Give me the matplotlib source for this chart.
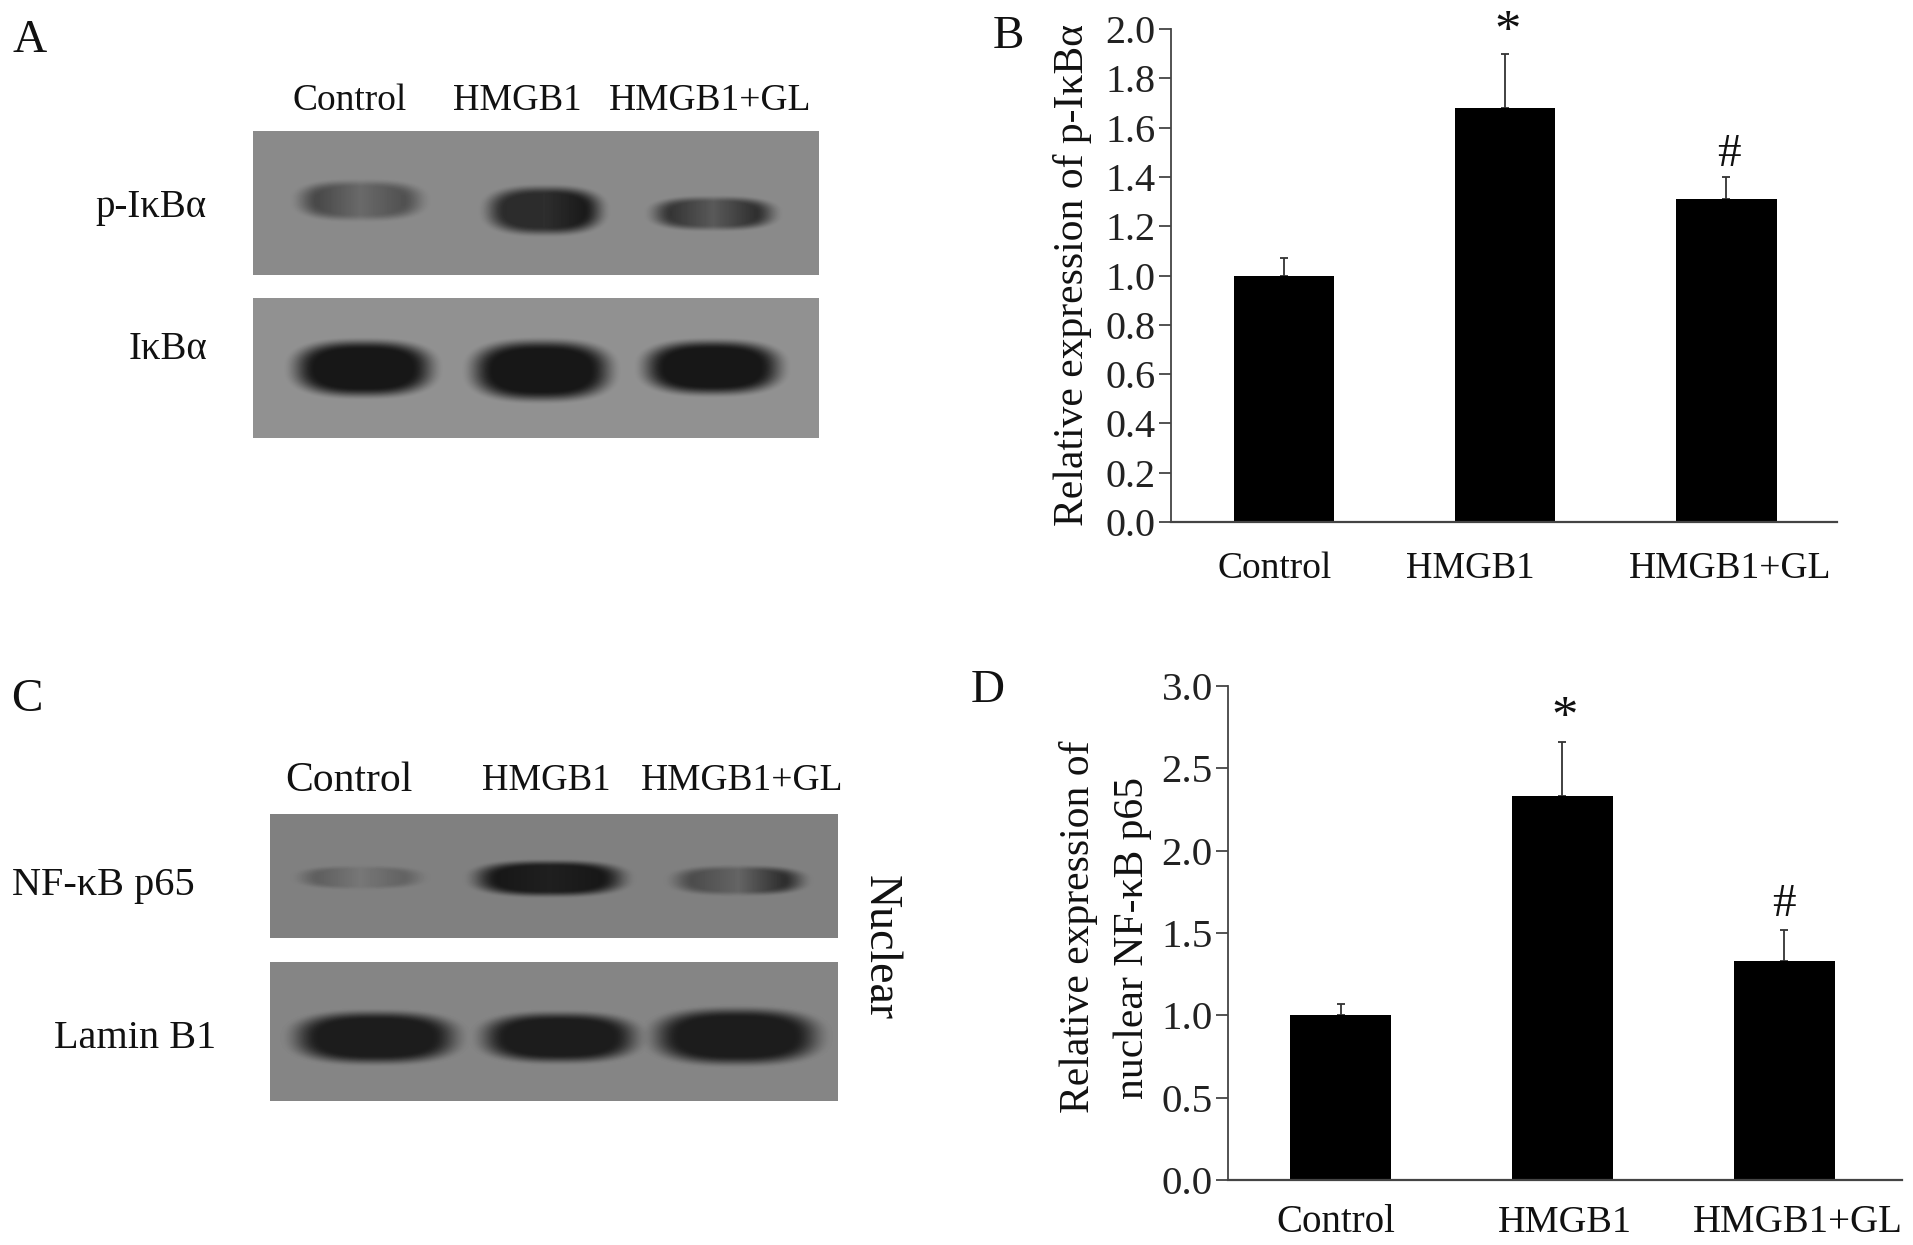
import numpy as np
import matplotlib
matplotlib.use("Agg")
import matplotlib.pyplot as plt

W, H = 1913, 1245

plt.rcParams["font.family"] = ["Liberation Serif", "DejaVu Serif"]

GROUPS = ["Control", "HMGB1", "HMGB1+GL"]

# panel B
P_IKBA_MEAN = [1.0, 1.68, 1.31]
P_IKBA_ERR = [0.07, 0.22, 0.09]
B_TICKS = [0.0, 0.2, 0.4, 0.6, 0.8, 1.0, 1.2, 1.4, 1.6, 1.8, 2.0]

# panel D
P65_MEAN = [1.0, 2.33, 1.33]
P65_ERR = [0.07, 0.33, 0.19]
D_TICKS = [0.0, 0.5, 1.0, 1.5, 2.0, 2.5, 3.0]

# band darkness left / middle / right, one row per lane
BAND_P_IKBA = [[0.58, 0.28, 0.50], [0.82, 0.80, 0.98], [0.75, 0.42, 0.80]]
BAND_IKBA = [[1.0, 1.0, 1.0], [1.0, 1.0, 1.0], [1.0, 1.0, 1.0]]
BAND_P65 = [[0.32, 0.08, 0.28], [1.0, 0.92, 1.0], [0.50, 0.26, 0.80]]
BAND_LAMIN = [[0.95, 0.95, 0.95], [0.95, 0.95, 0.95], [0.95, 0.95, 0.95]]


def px_axes(fig, x0, y0, x1, y1):
    # axes from pixel box, y measured from the top of the picture
    return fig.add_axes([x0 / W, 1 - y1 / H, (x1 - x0) / W, (y1 - y0) / H])


def put_text(fig, x, y, s, size=27, ha="center", rotation=0, **kw):
    fig.text(x / W, 1 - y / H, s, fontsize=size, ha=ha, va="center",
             rotation=rotation, color="#111111", **kw)


def draw_blot(fig, box, bg, boxes, darkness):
    x0, y0, x1, y1 = box
    ax = px_axes(fig, x0, y0, x1, y1)
    xx, yy = np.meshgrid(np.arange(x0, x1), np.arange(y0, y1))
    img = np.full(xx.shape, bg, dtype=float)
    for (bx0, bx1, yc, hh), dark in zip(boxes, darkness):
        cx = (bx0 + bx1) / 2
        hw = (bx1 - bx0) / 2
        r = (np.abs((xx - cx) / hw) ** 2.6 + np.abs((yy - yc) / hh) ** 2.6) ** (1 / 2.6)
        t = np.clip((1.2 - r) / 0.5, 0, 1)
        core = t * t * (3 - 2 * t)
        lane = np.interp(xx, [bx0 + 0.25 * hw, cx, bx1 - 0.25 * hw], dark)
        a = core * lane
        img = img * (1 - a) + 0.09 * a
    ax.imshow(img, cmap="gray", vmin=0, vmax=1, aspect="auto", interpolation="bilinear")
    ax.axis("off")


def draw_bars(fig, box, xlim, ylim, means, errs, ticks, marks, tick_size):
    ax = px_axes(fig, *box)
    x = np.arange(len(means))
    ax.bar(x, means, width=0.455, color="black", zorder=2)
    ax.errorbar(x, means, yerr=[np.zeros(len(errs)), errs], fmt="none", ecolor="#333333",
                elinewidth=1.3, capsize=3, capthick=1.3, zorder=1)
    ax.set_xlim(*xlim)
    ax.set_ylim(*ylim)
    ax.set_xticks([])
    ax.set_yticks(ticks)
    ax.set_yticklabels([f"{t:.1f}" for t in ticks], fontsize=tick_size, color="#222222")
    ax.tick_params(axis="y", length=9, width=1.3, color="#444444", pad=2)
    ax.spines["top"].set_visible(False)
    ax.spines["right"].set_visible(False)
    ax.spines["left"].set_color("#444444")
    ax.spines["left"].set_linewidth(1.3)
    ax.spines["bottom"].set_color("#444444")
    ax.spines["bottom"].set_linewidth(1.6)
    ax.patch.set_alpha(0)
    for xm, ym, s, size in marks:
        ax.text(xm, ym, s, fontsize=size, ha="center", va="center", color="#111111")
    return ax


def main():
    fig = plt.figure(figsize=(W / 100, H / 100), dpi=100, facecolor="white")

    # panel A
    put_text(fig, 30, 41, "A", size=34)
    put_text(fig, 350, 101, GROUPS[0])
    put_text(fig, 517, 101, GROUPS[1], size=26.5)
    put_text(fig, 710, 101, GROUPS[2])
    draw_blot(fig, (253, 131, 819, 275), 0.54,
              [(300, 420, 200, 19), (488, 600, 210, 23), (654, 772, 213, 16)], BAND_P_IKBA)
    draw_blot(fig, (253, 298, 819, 438), 0.57,
              [(295, 431, 368, 27), (473, 609, 370, 29), (645, 779, 367, 26)], BAND_IKBA)
    put_text(fig, 206, 208, "p-IκBα", size=28, ha="right")
    put_text(fig, 207, 350, "IκBα", size=28, ha="right")

    # panel C
    put_text(fig, 27, 700, "C", size=34)
    put_text(fig, 349, 781, GROUPS[0], size=30)
    put_text(fig, 546, 781, GROUPS[1], size=26.5)
    put_text(fig, 742, 781, GROUPS[2], size=27)
    draw_blot(fig, (270, 814, 838, 938), 0.50,
              [(301, 419, 877, 11), (476, 622, 878, 17), (675, 801, 880, 14)], BAND_P65)
    draw_blot(fig, (270, 962, 838, 1101), 0.52,
              [(295, 455, 1037, 25), (483, 635, 1037, 24), (655, 817, 1036, 27)], BAND_LAMIN)
    put_text(fig, 12, 885, "NF-κB p65", size=29, ha="left")
    put_text(fig, 216, 1039, "Lamin B1", size=29, ha="right")
    put_text(fig, 880, 948, "Nuclear", size=33, rotation=270)

    # panel B
    put_text(fig, 1008, 37, "B", size=34)
    draw_bars(fig, (1171, 29, 1837, 522), (-0.51, 2.5), (0, 2.0),
              P_IKBA_MEAN, P_IKBA_ERR, B_TICKS,
              [(1.01, 1.985, "*", 38), (2.01, 1.49, "#", 34)], 29)
    put_text(fig, 1275, 569, GROUPS[0])
    put_text(fig, 1470, 569, GROUPS[1], size=26.5)
    put_text(fig, 1730, 569, GROUPS[2])
    put_text(fig, 1073, 275, "Relative expression of p-IκBα", size=30, rotation=90)

    # panel D
    put_text(fig, 988, 691, "D", size=34)
    draw_bars(fig, (1228, 686, 1902, 1180), (-0.507, 2.53), (0, 3.0),
              P65_MEAN, P65_ERR, D_TICKS,
              [(1.01, 2.80, "*", 38), (2.0, 1.67, "#", 34)], 29.5)
    put_text(fig, 1336, 1223, GROUPS[0], size=28)
    put_text(fig, 1565, 1223, GROUPS[1], size=27.5)
    put_text(fig, 1798, 1223, GROUPS[2], size=28)
    put_text(fig, 1079, 927, "Relative expression of", size=30, rotation=90)
    put_text(fig, 1133, 938, "nuclear NF-κB p65", size=30, rotation=90)

    fig.savefig("out.png", dpi=100)


if __name__ == "__main__":
    main()
